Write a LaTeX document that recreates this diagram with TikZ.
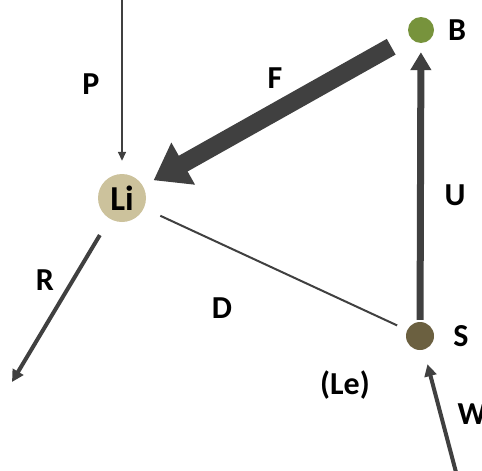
\documentclass[tikz,border=0pt]{standalone}
\usepackage{fontspec}
\setmainfont{Carlito}
\usepackage{xcolor}
\usetikzlibrary{arrows.meta}
\definecolor{grigio}{HTML}{404040}
\definecolor{verde}{HTML}{77933C}
\definecolor{oliva}{HTML}{6B6040}
\definecolor{sabbia}{HTML}{CCC29C}

\begin{document}
\begin{tikzpicture}[x=1pt,y=-1pt,
        etichetta/.style={font=\bfseries\fontsize{32}{32}\selectfont, inner sep=0pt},
        nodo/.style={circle, inner sep=0pt, minimum size=#1}]
        \useasboundingbox (0,0) rectangle (482,471);

        % Nodi
        \node[nodo=48pt, fill=sabbia, font=\bfseries\fontsize{35}{35}\selectfont] (li) at (122,198) {Li};
        \node[nodo=26pt, fill=verde] (b) at (421,30) {};
        \node[nodo=28pt, fill=oliva] (s) at (420,336) {};

        % Estremi liberi
        \coordinate (pin) at (122,-5);
        \coordinate (rfin) at (12,382);
        \coordinate (win) at (457,476);

        % Frecce
        \draw[grigio, line width=1.5pt, -{Triangle[length=9pt,width=8pt]}, shorten >=13pt]
        (pin) -- (li);
        \draw[grigio, line width=18pt, -{Triangle[length=34pt,width=46pt]},
        shorten <=21pt, shorten >=12pt] (b) -- (li);
        \draw[grigio, line width=7pt, -{Triangle[length=18pt,width=20pt]},
        shorten <=2pt, shorten >=9pt] (s) -- (b);
        \draw[grigio, line width=2pt, shorten <=18pt, shorten >=11pt] (li) -- (s);
        \draw[grigio, line width=4pt, -{Triangle[length=12pt,width=12pt]}, shorten <=19pt]
        (li) -- (rfin);
        \draw[grigio, line width=4pt, -{Triangle[length=12pt,width=12pt]}, shorten >=15pt]
        (win) -- (s);

        % Etichette
        \node[etichetta] (lb) at (457,30) {B};
        \node[etichetta] (ls) at (461,336) {S};
        \node[etichetta] (lp) at (91,84) {P};
        \node[etichetta] (lf) at (275,78) {F};
        \node[etichetta] (lu) at (455,195) {U};
        \node[etichetta] (ld) at (222,308) {D};
        \node[etichetta] (lr) at (45,280) {R};
        \node[etichetta] (lle) at (345,385) {(Le)};
        \node[etichetta] (lw) at (472,414) {W};
    \end{tikzpicture}
\end{document}
